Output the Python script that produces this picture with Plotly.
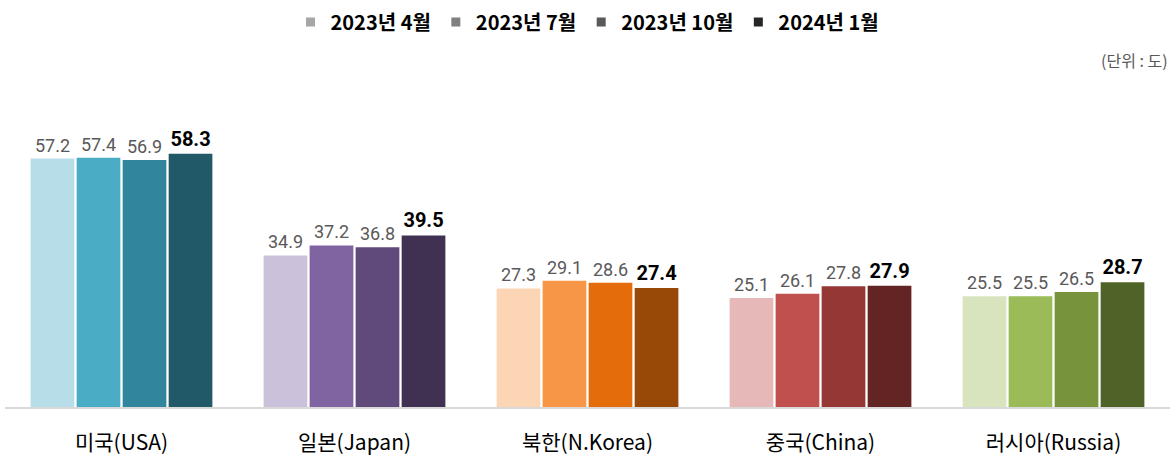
import plotly.graph_objects as go

categories = ["미국(USA)", "일본(Japan)", "북한(N.Korea)", "중국(China)", "러시아(Russia)"]
series_names = ["2023년 4월", "2023년 7월", "2023년 10월", "2024년 1월"]
apr_2023 = [57.2, 34.9, 27.3, 25.1, 25.5]
jul_2023 = [57.4, 37.2, 29.1, 26.1, 25.5]
oct_2023 = [56.9, 36.8, 28.6, 27.8, 26.5]
jan_2024 = [58.3, 39.5, 27.4, 27.9, 28.7]
series_values = [apr_2023, jul_2023, oct_2023, jan_2024]

# colours: per series (rows) per category (columns)
bar_colors = [
    ["#b7dde8", "#ccc1da", "#fcd5b5", "#e6b9b8", "#d7e4bd"],
    ["#4bacc6", "#8064a2", "#f79646", "#c0504d", "#9bbb59"],
    ["#31859c", "#604a7b", "#e46c0a", "#953735", "#77933c"],
    ["#215968", "#403152", "#984807", "#632523", "#4f6228"],
]
legend_colors = ["#a6a6a6", "#808080", "#595959", "#262626"]

fig = go.Figure()
for i, (name, vals) in enumerate(zip(series_names, series_values)):
    last = i == len(series_names) - 1
    fig.add_trace(go.Bar(
        x=categories, y=vals, name=name, showlegend=False,
        marker=dict(color=bar_colors[i], line=dict(width=0)),
        text=[f"{v:.1f}" for v in vals],
        texttemplate="%{text}",
        textposition="outside",
        cliponaxis=False,
        textfont=dict(
            family="Roboto, Liberation Sans, Arial",
            size=20 if last else 18,
            color="#000000" if last else "#595959",
            weight="bold" if last else "normal",
        ),
        hoverinfo="skip",
    ))
    fig.add_trace(go.Scatter(
        x=[None], y=[None], mode="markers", name=name,
        marker=dict(symbol="square", size=9, color=legend_colors[i]),
        showlegend=True,
    ))

fig.update_layout(
    width=1174, height=457,
    margin=dict(l=5, r=4, t=80, b=50, autoexpand=False),
    paper_bgcolor="white", plot_bgcolor="white",
    barmode="group", bargap=0.21, bargroupgap=0.05,
    legend=dict(
        orientation="h", x=0.5, xanchor="center", y=1 - 22 / 457, yanchor="middle",
        yref="container", itemwidth=30,
        font=dict(family="Noto Sans CJK KR", size=20, color="#000000", weight="bold"),
    ),
    font=dict(family="Noto Sans CJK KR"),
    annotations=[dict(
        text="(단위 : 도)", xref="paper", yref="paper",
        x=1.0, xanchor="right", y=(407 - 60) / 327, yanchor="middle",
        showarrow=False, font=dict(family="Noto Sans CJK KR", size=16, color="#595959"),
    )],
)
fig.update_xaxes(
    showline=True, linecolor="#d9d9d9", linewidth=2,
    ticks="", ticklabelstandoff=16, automargin=False,
    tickfont=dict(family="Noto Sans CJK KR", size=21, color="#000000"),
    showgrid=False, fixedrange=True,
)
fig.update_yaxes(range=[0, 75.3], visible=False, showgrid=False, zeroline=False, automargin=False)

fig.write_html(
    "out.html",
    config={"displayModeBar": False},
    post_script="document.body.style.margin='0';document.body.style.padding='0';",
)
